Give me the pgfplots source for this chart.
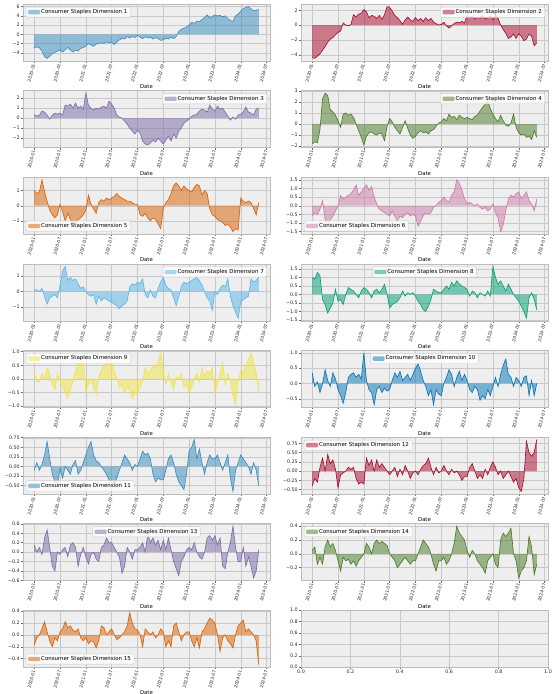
\documentclass[border=0pt]{standalone}
\usepackage{fontspec}
\setmainfont{DejaVu Sans}
\usepackage{pgfplots}
\usepackage{pgfplotstable}
\pgfplotsset{compat=1.18}
\definecolor{cA}{HTML}{348ABD}
\definecolor{cB}{HTML}{A60628}
\definecolor{cC}{HTML}{7A68A6}
\definecolor{cD}{HTML}{467821}
\definecolor{cE}{HTML}{D55E00}
\definecolor{cF}{HTML}{CC79A7}
\definecolor{cG}{HTML}{56B4E9}
\definecolor{cH}{HTML}{009E73}
\definecolor{cI}{HTML}{F0E442}
\definecolor{cJ}{HTML}{0072B2}
\definecolor{bgc}{HTML}{EEEEEE}
\definecolor{edgec}{HTML}{BCBCBC}
\definecolor{gridc}{HTML}{C8C8C8}
\newcommand{\fs}{\fontsize{5.3}{6}\selectfont}
\newcommand{\fl}{\fontsize{5.5}{6.2}\selectfont}
\newcommand{\fy}{\fontsize{4.8}{5.5}\selectfont}
\newcommand{\fx}{\fontsize{4.4}{5}\selectfont}

\pgfplotstableread[row sep=\\, header=false]{
-2.9\\ -2.7\\ -2.9\\ -3.6\\ -4.8\\ -5.2\\ -4.7\\ -4.2\\ -3.9\\ -3.6\\
-3.4\\ -3.8\\ -3.3\\ -2.8\\ -3.4\\ -3.8\\ -3.4\\ -3.6\\ -3.0\\ -2.9\\
-2.5\\ -2.0\\ -2.3\\ -2.6\\ -2.1\\ -2.0\\ -1.8\\ -2.0\\ -1.6\\ -1.9\\
-1.7\\ -2.2\\ -1.6\\ -1.2\\ -0.9\\ -1.0\\ -0.5\\ -0.8\\ -0.4\\ -0.7\\
-0.2\\ -0.6\\ -0.9\\ -0.5\\ -0.8\\ -0.6\\ -1.0\\ -0.7\\ -0.9\\ -1.3\\
-1.2\\ -0.8\\ -1.0\\ -0.6\\ -0.9\\ -0.5\\ 0.6\\ 1.1\\ 1.3\\ 1.6\\
2.0\\ 2.6\\ 2.4\\ 2.8\\ 2.7\\ 3.2\\ 3.6\\ 4.2\\ 3.6\\ 3.9\\
4.2\\ 4.0\\ 4.1\\ 3.8\\ 4.0\\ 3.4\\ 3.0\\ 2.8\\ 4.0\\ 4.4\\
5.0\\ 5.6\\ 5.8\\ 6.0\\ 5.5\\ 5.1\\ 5.2\\ 5.4\\
}\sA
\pgfplotstableread[row sep=\\, header=false]{
-4.4\\ -4.5\\ -4.2\\ -3.9\\ -3.4\\ -2.9\\ -2.3\\ -1.9\\ -1.7\\ -1.3\\
-1.0\\ -0.8\\ 0.3\\ 0.0\\ -0.1\\ 0.1\\ 1.4\\ 1.1\\ 1.5\\ 1.6\\
2.1\\ 1.8\\ 1.0\\ 1.3\\ 1.2\\ 0.9\\ 1.3\\ 0.8\\ 1.4\\ 2.5\\
2.4\\ 1.9\\ 1.3\\ 1.0\\ 0.6\\ 0.1\\ 0.7\\ 1.1\\ 0.7\\ 0.5\\
1.0\\ 0.6\\ 0.9\\ 0.5\\ 1.0\\ 0.6\\ 0.9\\ 0.4\\ 0.2\\ 0.0\\
0.1\\ 0.4\\ -0.1\\ -0.4\\ -0.1\\ 0.2\\ 0.4\\ 0.3\\ 0.5\\ 0.3\\
1.3\\ 1.0\\ 1.2\\ 0.8\\ 1.1\\ 0.9\\ 1.3\\ 0.8\\ 1.0\\ 1.3\\
0.7\\ 1.4\\ 0.9\\ 0.0\\ -0.6\\ -1.1\\ -1.8\\ -1.6\\ -1.2\\ -1.8\\
-1.2\\ -1.5\\ -2.1\\ -1.9\\ -1.2\\ -1.5\\ -2.8\\ -2.4\\
}\sB
\pgfplotstableread[row sep=\\, header=false]{
0.35\\ 0.2\\ 0.3\\ 0.7\\ 0.6\\ 0.3\\ -0.1\\ 0.3\\ 0.5\\ 0.4\\
0.5\\ 0.3\\ 1.3\\ 1.2\\ 1.4\\ 1.0\\ 1.5\\ 1.0\\ 1.2\\ 0.9\\
2.5\\ 1.3\\ 1.0\\ 0.8\\ 1.0\\ 0.9\\ 1.1\\ 1.2\\ 1.0\\ 1.7\\
1.4\\ 1.0\\ 0.3\\ 0.1\\ 0.0\\ -0.3\\ -0.6\\ -1.0\\ -1.3\\ -1.6\\
-1.2\\ -1.5\\ -2.3\\ -2.6\\ -2.7\\ -2.5\\ -2.2\\ -2.4\\ -2.0\\ -2.3\\
-2.6\\ -2.2\\ -1.8\\ -2.3\\ -1.6\\ -2.0\\ -1.3\\ -1.0\\ -0.5\\ -0.3\\
-0.1\\ 0.2\\ 0.3\\ 0.4\\ 0.7\\ 0.9\\ 0.8\\ 0.6\\ 1.3\\ 0.9\\
0.7\\ 1.2\\ 0.9\\ 1.0\\ 0.6\\ 0.2\\ -0.2\\ 0.1\\ -0.1\\ 0.3\\
0.4\\ 0.6\\ 1.1\\ 0.6\\ 0.5\\ 0.3\\ 0.9\\ 1.0\\
}\sC
\pgfplotstableread[row sep=\\, header=false]{
-1.8\\ -1.6\\ -1.7\\ -0.5\\ 2.3\\ 2.8\\ 2.6\\ 1.3\\ 1.1\\ 0.8\\
0.3\\ -0.3\\ 0.9\\ 1.0\\ 0.8\\ 0.9\\ 0.6\\ 0.0\\ -0.6\\ -1.2\\
-1.9\\ -1.1\\ -0.8\\ -0.7\\ -0.9\\ -1.0\\ -0.8\\ -0.9\\ -1.5\\ -0.2\\
0.5\\ 0.2\\ -0.3\\ -0.6\\ -0.9\\ -0.3\\ 0.3\\ -0.4\\ -1.0\\ -1.3\\
-1.1\\ -0.8\\ -0.6\\ -0.8\\ -0.7\\ -0.9\\ -0.6\\ -0.5\\ -0.2\\ 0.1\\
0.2\\ 0.5\\ 0.3\\ 0.9\\ 0.6\\ 0.7\\ 0.4\\ 0.8\\ 0.6\\ 0.5\\
0.6\\ 0.5\\ 0.4\\ 0.7\\ 0.8\\ 1.2\\ 1.5\\ 1.8\\ 2.1\\ 1.4\\
0.9\\ 0.5\\ 0.2\\ 0.8\\ 0.3\\ -0.1\\ -0.2\\ 0.1\\ 0.9\\ -0.3\\
-0.8\\ -1.0\\ -0.9\\ -1.2\\ -1.1\\ -1.4\\ -0.6\\ -1.2\\
}\sD
\pgfplotstableread[row sep=\\, header=false]{
1.0\\ 0.8\\ 0.9\\ 1.7\\ 0.9\\ 0.3\\ -0.3\\ -0.6\\ -0.8\\ -0.6\\
0.1\\ -0.4\\ -1.0\\ -0.5\\ -0.9\\ -1.3\\ -1.1\\ -0.9\\ -0.8\\ -0.6\\
-0.3\\ 0.7\\ 0.1\\ -0.2\\ -0.5\\ 0.2\\ 0.4\\ 0.3\\ 0.5\\ 0.4\\
0.5\\ 0.6\\ 0.8\\ 0.6\\ 0.5\\ 0.4\\ 0.3\\ 0.3\\ 0.2\\ 0.1\\
0.1\\ -0.6\\ -0.7\\ -0.5\\ -0.8\\ -1.0\\ -0.8\\ -0.9\\ -1.2\\ -1.5\\
-0.2\\ 0.2\\ 0.4\\ 0.8\\ 1.3\\ 1.5\\ 1.3\\ 1.0\\ 1.3\\ 1.1\\
1.0\\ 0.9\\ 1.2\\ 1.4\\ 1.3\\ 0.7\\ 1.0\\ 0.8\\ -0.2\\ -0.6\\
-0.7\\ -0.9\\ -1.0\\ -1.1\\ -1.3\\ -1.2\\ -1.4\\ -1.7\\ -1.5\\ -1.6\\
0.5\\ 0.3\\ 0.2\\ 0.3\\ 0.2\\ -0.2\\ -0.6\\ 0.2\\
}\sE
\pgfplotstableread[row sep=\\, header=false]{
-0.6\\ -0.4\\ -0.5\\ -0.2\\ 0.3\\ -0.8\\ -1.1\\ -0.8\\ -0.6\\ -0.3\\
0.0\\ 0.6\\ 0.4\\ 0.5\\ 0.6\\ 0.7\\ 0.9\\ 1.2\\ 0.6\\ 0.8\\
1.0\\ 1.2\\ 0.9\\ 1.1\\ 0.5\\ 0.1\\ -0.2\\ -0.3\\ -0.4\\ -0.5\\
-0.6\\ -0.3\\ -0.6\\ -0.9\\ -0.6\\ -0.7\\ -0.5\\ -0.4\\ -0.6\\ -0.5\\
-0.6\\ -1.2\\ -0.9\\ -0.6\\ -0.4\\ -0.5\\ -0.4\\ -0.1\\ 0.0\\ 0.2\\
0.3\\ 0.5\\ 0.3\\ 0.2\\ 0.6\\ 0.8\\ 1.5\\ 1.3\\ 0.9\\ 0.4\\
0.1\\ 0.2\\ 0.1\\ 0.0\\ 0.1\\ -0.1\\ -0.2\\ -0.1\\ -0.3\\ -0.2\\
0.1\\ -0.4\\ -0.7\\ -1.5\\ -1.1\\ -0.3\\ 0.4\\ 0.6\\ 0.5\\ 0.7\\
0.8\\ 0.4\\ 0.6\\ 0.8\\ 0.3\\ 0.1\\ -0.3\\ 0.4\\
}\sF
\pgfplotstableread[row sep=\\, header=false]{
0.1\\ 0.1\\ 0.0\\ 0.2\\ -0.3\\ -0.8\\ -0.4\\ -0.3\\ -0.2\\ -0.4\\
0.4\\ 1.3\\ 1.6\\ 0.7\\ 0.9\\ 0.7\\ 0.8\\ 0.5\\ 0.2\\ 0.3\\
0.0\\ -0.2\\ -0.3\\ -0.2\\ -0.8\\ -0.3\\ -0.6\\ -0.4\\ -0.5\\ -0.6\\
-0.7\\ -0.8\\ -0.9\\ -1.1\\ -0.9\\ -0.8\\ -0.6\\ 0.3\\ 0.5\\ 0.4\\
0.6\\ 0.5\\ 0.8\\ -0.2\\ -0.4\\ 0.1\\ -0.3\\ -0.4\\ 0.2\\ 0.6\\
0.9\\ 0.4\\ 0.2\\ 0.1\\ -0.4\\ -0.9\\ -0.3\\ 0.3\\ 0.6\\ 0.5\\
0.6\\ 0.7\\ 0.8\\ 0.9\\ 0.7\\ 0.4\\ 0.0\\ -0.4\\ -0.6\\ -1.2\\
0.0\\ -0.2\\ 0.2\\ 0.4\\ 0.3\\ 0.8\\ -0.3\\ -0.9\\ -1.3\\ -1.7\\
-0.7\\ -0.5\\ -0.4\\ -0.3\\ 0.8\\ 0.6\\ 0.7\\ 0.9\\
}\sG
\pgfplotstableread[row sep=\\, header=false]{
1.0\\ 0.9\\ 1.3\\ 1.1\\ -0.3\\ -0.6\\ -1.1\\ -0.8\\ -0.5\\ 0.3\\
-0.4\\ -0.3\\ -0.6\\ 0.0\\ 0.4\\ 0.3\\ 0.2\\ 0.0\\ -0.2\\ 0.2\\
0.4\\ 0.3\\ 0.1\\ -0.2\\ 0.2\\ 0.3\\ 0.1\\ 0.3\\ 0.6\\ 0.0\\
-0.8\\ -0.6\\ -0.5\\ -0.4\\ -0.2\\ 0.2\\ -0.1\\ 0.1\\ 0.0\\ 0.1\\
-0.1\\ -0.4\\ -0.6\\ -0.9\\ -1.0\\ -0.7\\ -0.3\\ 0.3\\ 0.2\\ 0.1\\
0.1\\ 0.3\\ 0.5\\ 0.3\\ 0.7\\ 0.5\\ 0.8\\ 0.6\\ 0.5\\ 0.4\\
0.3\\ -0.1\\ 0.2\\ 0.1\\ -0.2\\ 0.1\\ 0.0\\ -0.1\\ 0.2\\ -0.1\\
1.65\\ 1.0\\ 0.6\\ 0.8\\ 0.5\\ 0.2\\ 0.6\\ 0.3\\ 0.0\\ -0.2\\
-0.4\\ -0.7\\ -1.0\\ -1.4\\ -0.2\\ 0.1\\ -0.3\\ -0.9\\
}\sH
\pgfplotstableread[row sep=\\, header=false]{
0.3\\ -0.1\\ -0.1\\ 0.2\\ 0.0\\ 0.4\\ 0.2\\ -0.2\\ -0.4\\ 0.2\\
-0.1\\ -0.3\\ -0.5\\ -0.7\\ -0.4\\ -0.1\\ 0.3\\ 0.6\\ 0.5\\ 0.7\\
-0.5\\ -0.2\\ 0.0\\ -0.3\\ -0.6\\ 0.1\\ 0.3\\ 0.5\\ 0.6\\ 0.7\\
0.6\\ 0.3\\ 0.0\\ -0.3\\ -0.2\\ -0.5\\ -0.3\\ -0.4\\ -0.7\\ -0.5\\
-0.6\\ -0.3\\ -0.1\\ 0.4\\ 0.2\\ 0.3\\ 0.5\\ 0.4\\ 0.6\\ 0.95\\
0.3\\ -0.2\\ 0.2\\ -0.1\\ -0.4\\ 0.1\\ 0.0\\ 0.2\\ -0.3\\ -0.2\\
-0.5\\ -0.3\\ 0.0\\ 0.2\\ -0.1\\ 0.4\\ 0.1\\ 0.3\\ 0.2\\ 0.4\\
-0.5\\ -0.2\\ 0.2\\ 0.6\\ -0.2\\ 0.2\\ -0.1\\ -0.6\\ -0.95\\ -0.1\\
0.3\\ 0.2\\ 0.5\\ 0.7\\ 0.95\\ 0.6\\ 0.2\\ -0.5\\
}\sI
\pgfplotstableread[row sep=\\, header=false]{
0.35\\ -0.1\\ 0.05\\ -0.3\\ 0.0\\ 0.45\\ 0.1\\ -0.1\\ 0.35\\ 0.15\\
-0.2\\ -0.4\\ -0.65\\ -0.3\\ 0.2\\ 0.3\\ 0.35\\ 0.2\\ 0.3\\ 0.15\\
1.0\\ 0.1\\ -0.2\\ -0.3\\ -0.7\\ -0.2\\ -0.1\\ -0.3\\ -0.15\\ -0.25\\
-0.2\\ 0.1\\ 0.35\\ 0.2\\ 0.4\\ 0.1\\ 0.2\\ 0.3\\ 0.1\\ 0.3\\
0.5\\ 0.65\\ 0.4\\ 0.1\\ -0.1\\ -0.4\\ -0.2\\ -0.7\\ -0.2\\ -0.35\\
-0.4\\ 0.0\\ 0.2\\ 0.45\\ 0.3\\ -0.1\\ 0.2\\ 0.4\\ 0.1\\ 0.3\\
0.1\\ -0.2\\ -0.3\\ -0.1\\ -0.2\\ -0.55\\ -0.4\\ -0.5\\ -0.2\\ -0.4\\
-0.1\\ 0.2\\ -0.1\\ 0.3\\ 0.6\\ 0.8\\ 0.3\\ 0.2\\ -0.1\\ 0.2\\
0.1\\ -0.1\\ 0.2\\ 0.25\\ -0.4\\ 0.1\\ -0.4\\ 0.0\\
}\sJ
\pgfplotstableread[row sep=\\, header=false]{
-0.1\\ 0.1\\ -0.1\\ 0.05\\ 0.3\\ 0.65\\ 0.2\\ -0.2\\ -0.4\\ -0.5\\
-0.05\\ -0.3\\ 0.0\\ -0.1\\ -0.2\\ 0.05\\ 0.15\\ -0.2\\ -0.1\\ 0.1\\
0.3\\ 0.5\\ 0.65\\ 0.3\\ 0.15\\ 0.1\\ 0.0\\ -0.1\\ -0.2\\ -0.35\\
-0.4\\ -0.5\\ -0.3\\ -0.1\\ 0.1\\ 0.3\\ 0.2\\ 0.1\\ -0.1\\ 0.05\\
0.0\\ 0.2\\ 0.4\\ 0.3\\ 0.35\\ 0.2\\ -0.2\\ -0.4\\ -0.3\\ -0.35\\
-0.35\\ -0.1\\ 0.2\\ 0.3\\ 0.1\\ -0.2\\ -0.4\\ -0.5\\ -0.6\\ -0.2\\
0.4\\ 0.5\\ 0.7\\ 0.2\\ 0.45\\ 0.1\\ -0.2\\ 0.1\\ 0.3\\ 0.2\\
0.2\\ 0.3\\ 0.1\\ -0.1\\ 0.1\\ 0.3\\ -0.3\\ -0.65\\ -0.1\\ 0.1\\
0.3\\ 0.2\\ 0.1\\ 0.0\\ -0.2\\ 0.1\\ -0.1\\ -0.5\\
}\sK
\pgfplotstableread[row sep=\\, header=false]{
-0.4\\ -0.2\\ -0.3\\ 0.1\\ 0.35\\ 0.0\\ 0.45\\ 0.2\\ 0.3\\ 0.05\\
-0.45\\ -0.1\\ -0.05\\ 0.0\\ 0.1\\ 0.05\\ 0.1\\ -0.2\\ -0.35\\ -0.3\\
-0.35\\ 0.35\\ 0.15\\ 0.3\\ 0.0\\ 0.3\\ 0.1\\ 0.2\\ 0.1\\ 0.0\\
-0.1\\ 0.0\\ 0.1\\ -0.15\\ 0.05\\ -0.1\\ 0.15\\ 0.0\\ -0.2\\ -0.05\\
0.0\\ -0.1\\ 0.05\\ 0.15\\ 0.2\\ 0.35\\ 0.1\\ -0.1\\ 0.1\\ -0.05\\
0.0\\ 0.15\\ 0.0\\ -0.1\\ 0.05\\ -0.05\\ 0.0\\ -0.1\\ -0.25\\ -0.15\\
-0.15\\ 0.1\\ 0.2\\ 0.0\\ -0.2\\ -0.1\\ -0.2\\ 0.05\\ -0.1\\ 0.1\\
0.25\\ 0.1\\ -0.1\\ 0.0\\ -0.2\\ -0.1\\ 0.0\\ -0.15\\ -0.3\\ -0.2\\
-0.45\\ -0.55\\ -0.2\\ 0.8\\ 0.5\\ 0.4\\ 0.5\\ 0.85\\
}\sL
\pgfplotstableread[row sep=\\, header=false]{
0.15\\ 0.0\\ 0.1\\ -0.05\\ 0.3\\ 0.47\\ 0.1\\ -0.3\\ -0.4\\ 0.0\\
-0.05\\ 0.05\\ 0.1\\ -0.1\\ 0.15\\ 0.2\\ 0.1\\ -0.3\\ -0.05\\ 0.1\\
-0.1\\ -0.25\\ -0.05\\ 0.0\\ -0.15\\ -0.2\\ 0.1\\ 0.15\\ 0.3\\ 0.2\\
0.2\\ 0.1\\ 0.0\\ -0.1\\ -0.45\\ -0.3\\ 0.1\\ 0.0\\ -0.15\\ 0.05\\
0.05\\ 0.1\\ 0.2\\ 0.0\\ 0.38\\ 0.2\\ 0.3\\ 0.15\\ 0.25\\ 0.05\\
0.25\\ 0.05\\ 0.3\\ 0.05\\ -0.2\\ -0.35\\ -0.5\\ -0.2\\ -0.1\\ 0.05\\
0.1\\ 0.05\\ 0.2\\ 0.0\\ -0.1\\ -0.15\\ 0.0\\ 0.3\\ 0.35\\ 0.25\\
0.35\\ 0.15\\ 0.3\\ -0.3\\ -0.35\\ 0.0\\ 0.2\\ 0.55\\ 0.1\\ -0.2\\
-0.2\\ 0.1\\ -0.3\\ -0.1\\ -0.3\\ -0.55\\ -0.4\\ 0.05\\
}\sM
\pgfplotstableread[row sep=\\, header=false]{
0.05\\ 0.1\\ -0.15\\ -0.05\\ -0.15\\ 0.1\\ 0.2\\ 0.1\\ 0.15\\ 0.05\\
-0.1\\ -0.25\\ -0.05\\ -0.1\\ -0.08\\ -0.15\\ -0.1\\ -0.18\\ -0.1\\ -0.05\\
0.0\\ 0.15\\ 0.1\\ 0.0\\ 0.15\\ 0.2\\ 0.15\\ 0.18\\ 0.15\\ 0.12\\
0.0\\ -0.05\\ -0.1\\ -0.2\\ -0.15\\ -0.1\\ -0.05\\ -0.1\\ -0.15\\ -0.1\\
-0.1\\ 0.0\\ 0.1\\ 0.2\\ 0.15\\ 0.1\\ 0.0\\ -0.15\\ -0.25\\ -0.1\\
-0.1\\ -0.05\\ -0.15\\ -0.1\\ 0.0\\ 0.15\\ 0.4\\ 0.3\\ 0.25\\ 0.2\\
0.05\\ -0.05\\ 0.05\\ 0.0\\ -0.1\\ -0.15\\ -0.2\\ -0.28\\ -0.1\\ -0.05\\
0.0\\ -0.15\\ -0.2\\ 0.2\\ 0.3\\ 0.25\\ 0.3\\ 0.37\\ 0.0\\ -0.1\\
-0.35\\ -0.25\\ -0.2\\ -0.1\\ 0.25\\ 0.1\\ -0.3\\ -0.15\\
}\sN
\pgfplotstableread[row sep=\\, header=false]{
-0.17\\ -0.05\\ 0.0\\ 0.1\\ 0.22\\ 0.05\\ -0.1\\ -0.2\\ -0.05\\ -0.1\\
0.05\\ 0.1\\ 0.22\\ 0.12\\ 0.15\\ 0.08\\ 0.05\\ 0.1\\ -0.05\\ -0.1\\
-0.05\\ -0.15\\ -0.1\\ -0.12\\ -0.22\\ -0.1\\ 0.15\\ 0.12\\ 0.0\\ 0.05\\
0.1\\ 0.0\\ -0.08\\ -0.05\\ 0.0\\ 0.05\\ 0.15\\ 0.37\\ 0.2\\ 0.1\\
0.08\\ 0.0\\ -0.2\\ 0.1\\ 0.05\\ 0.0\\ 0.05\\ -0.05\\ 0.0\\ 0.1\\
0.05\\ -0.2\\ -0.1\\ -0.2\\ 0.15\\ 0.2\\ 0.05\\ -0.1\\ 0.0\\ 0.05\\
0.05\\ -0.1\\ -0.2\\ -0.05\\ -0.22\\ 0.05\\ 0.1\\ 0.2\\ 0.28\\ 0.25\\
0.2\\ 0.0\\ -0.28\\ -0.05\\ 0.0\\ -0.1\\ -0.15\\ -0.22\\ 0.0\\ 0.15\\
0.2\\ 0.25\\ 0.05\\ 0.1\\ 0.05\\ 0.0\\ -0.1\\ -0.5\\
}\sO

\pgfplotsset{
  base/.style={
    scale only axis, width=247pt, height=57pt, anchor=north west,
    axis background/.style={fill=bgc},
    axis line style={draw=edgec, line width=0.5pt},
    grid=major, major grid style={draw=gridc, line width=0.35pt},
    tick pos=left, tick align=outside, major tick length=2pt,
    tick style={draw=black!60, line width=0.4pt},
    y tick label style={font=\fy, inner sep=1pt, text=black!85},
    legend cell align=left,
    legend style={font=\fl, draw=black!20, fill=white, fill opacity=0.8, text opacity=1,
      rounded corners=1pt, inner xsep=2pt, inner ysep=1.3pt,
      nodes={inner sep=1pt}, /tikz/every even column/.append style={column sep=2.5pt}},
  },
  panel/.style={
    base,
    enlarge x limits=0.05, enlarge y limits=0.05,
    xtick={0,6,12,18,24,30,36,42,48,54},
    xticklabels={2020-01,2020-07,2021-01,2021-07,2022-01,2022-07,2023-01,2023-07,2024-01,2024-07},
    x tick label style={font=\fx, rotate=75, anchor=east, inner sep=1pt, text=black!85},
    xlabel={Date}, xlabel style={font=\fs, inner sep=1pt},
  },
  lnw/.style={legend style={at={(0.012,0.95)}, anchor=north west}},
  lne/.style={legend style={at={(0.988,0.95)}, anchor=north east}},
  lsw/.style={legend style={at={(0.012,0.05)}, anchor=south west}},
  lnc/.style={legend style={at={(0.5,0.95)}, anchor=north}},
}
\newcommand{\series}[3]{%
  \addplot[fill=#2, fill opacity=0.5, draw=none,
    legend image code/.code={\fill[#2, fill opacity=0.5] (0pt,-2.2pt) rectangle (12pt,2.2pt);}]
    table[x expr=\coordindex*0.6, y index=0] {#1} \closedcycle;
  \addlegendentry{Consumer Staples Dimension #3}
  \addplot[draw=#2, line width=0.6pt, forget plot] table[x expr=\coordindex*0.6, y index=0] {#1};
}

\begin{document}
\begin{tikzpicture}
\path[use as bounding box] (0pt,0pt) rectangle (557pt,-694pt);

% row 1
\begin{axis}[panel, lnw, at={(23pt,-4pt)},
  ytick={-4,-2,0,2,4,6}, yticklabels={−4,−2,0,2,4,6}]
\series{\sA}{cA}{1}
\end{axis}
\begin{axis}[panel, lne, at={(301pt,-4pt)},
  ytick={-4,-2,0,2}, yticklabels={−4,−2,0,2}]
\series{\sB}{cB}{2}
\end{axis}
% row 2
\begin{axis}[panel, lne, at={(23pt,-90.6pt)},
  ytick={-2,-1,0,1,2}, yticklabels={−2,−1,0,1,2}]
\series{\sC}{cC}{3}
\end{axis}
\begin{axis}[panel, lne, at={(301pt,-90.6pt)},
  ytick={-2,-1,0,1,2,3}, yticklabels={−2,−1,0,1,2,3}]
\series{\sD}{cD}{4}
\end{axis}
% row 3
\begin{axis}[panel, lsw, at={(23pt,-177.2pt)},
  ytick={-1,0,1}, yticklabels={−1,0,1}]
\series{\sE}{cE}{5}
\end{axis}
\begin{axis}[panel, lsw, at={(301pt,-177.2pt)},
  ytick={-1.5,-1,-0.5,0,0.5,1,1.5}, yticklabels={−1.5,−1.0,−0.5,0.0,0.5,1.0,1.5}]
\series{\sF}{cF}{6}
\end{axis}
% row 4
\begin{axis}[panel, lne, at={(23pt,-263.8pt)},
  ytick={-1,0,1}, yticklabels={−1,0,1}]
\series{\sG}{cG}{7}
\end{axis}
\begin{axis}[panel, lnc, at={(301pt,-263.8pt)},
  ytick={-1.5,-1,-0.5,0,0.5,1,1.5}, yticklabels={−1.5,−1.0,−0.5,0.0,0.5,1.0,1.5}]
\series{\sH}{cH}{8}
\end{axis}
% row 5
\begin{axis}[panel, lnw, at={(23pt,-350.4pt)},
  ytick={-1,-0.5,0,0.5,1}, yticklabels={−1.0,−0.5,0.0,0.5,1.0}]
\series{\sI}{cI}{9}
\end{axis}
\begin{axis}[panel, lnc, at={(301pt,-350.4pt)},
  ytick={-0.5,0,0.5,1}, yticklabels={−0.5,0.0,0.5,1.0}]
\series{\sJ}{cJ}{10}
\end{axis}
% row 6
\begin{axis}[panel, lsw, at={(23pt,-437pt)},
  ytick={-0.5,-0.25,0,0.25,0.5,0.75}, yticklabels={−0.50,−0.25,0.00,0.25,0.50,0.75}]
\series{\sK}{cA}{11}
\end{axis}
\begin{axis}[panel, lnw, at={(301pt,-437pt)},
  ytick={-0.5,-0.25,0,0.25,0.5,0.75}, yticklabels={−0.50,−0.25,0.00,0.25,0.50,0.75}]
\series{\sL}{cB}{12}
\end{axis}
% row 7
\begin{axis}[panel, lnc, at={(23pt,-523.6pt)},
  ytick={-0.6,-0.4,-0.2,0,0.2,0.4,0.6}, yticklabels={−0.6,−0.4,−0.2,0.0,0.2,0.4,0.6}]
\series{\sM}{cC}{13}
\end{axis}
\begin{axis}[panel, lnw, at={(301pt,-523.6pt)},
  ytick={-0.2,0,0.2,0.4}, yticklabels={−0.2,0.0,0.2,0.4}]
\series{\sN}{cD}{14}
\end{axis}
% row 8
\begin{axis}[panel, lsw, at={(23pt,-610.2pt)},
  ytick={-0.4,-0.2,0,0.2,0.4}, yticklabels={−0.4,−0.2,0.0,0.2,0.4}]
\series{\sO}{cE}{15}
\end{axis}
\begin{axis}[base, at={(301pt,-610.2pt)},
  xmin=0, xmax=1, ymin=0, ymax=1,
  xtick={0,0.2,0.4,0.6,0.8,1}, xticklabels={0.0,0.2,0.4,0.6,0.8,1.0},
  ytick={0,0.2,0.4,0.6,0.8,1}, yticklabels={0.0,0.2,0.4,0.6,0.8,1.0},
  x tick label style={font=\fy, inner sep=1pt, text=black!85}]
\end{axis}
\end{tikzpicture}
\end{document}
